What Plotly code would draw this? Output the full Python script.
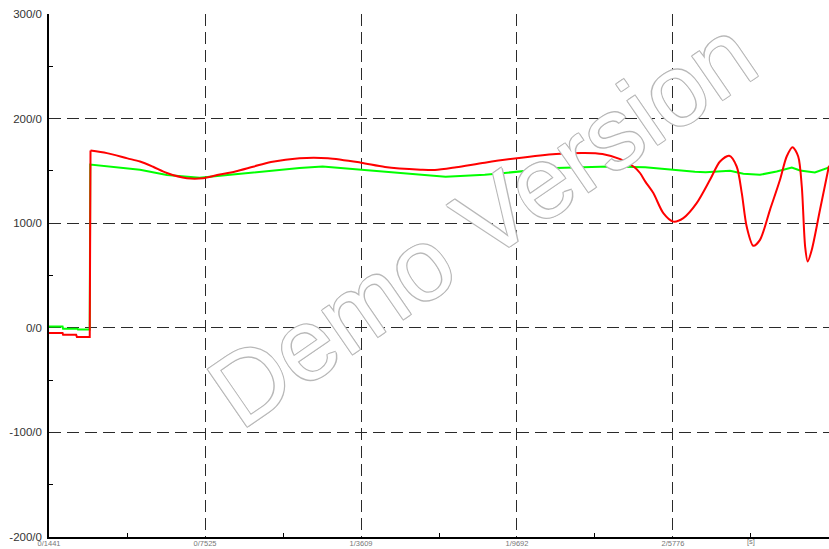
import plotly.graph_objects as go

# ---- data ----
red_t = [0.1441, 0.197, 0.199, 0.250, 0.253, 0.303, 0.306, 0.37, 0.45, 0.499, 0.55, 0.604,
         0.682, 0.745, 0.80, 0.8707, 0.94, 1.0097, 1.121, 1.2321, 1.3609, 1.4545, 1.5935,
         1.649, 1.7325, 1.8437, 1.9692, 2.1217, 2.2329, 2.3024, 2.3719, 2.4275, 2.449,
         2.4692, 2.501, 2.540, 2.579, 2.618, 2.670, 2.722, 2.761, 2.797, 2.826, 2.846,
         2.865, 2.891, 2.917, 2.956, 2.995, 3.021, 3.044, 3.066, 3.080, 3.093, 3.103,
         3.119, 3.151, 3.1861]
red_v = [-5, -5, -6.7, -6.7, -8.7, -8.7, 169.5, 167, 162, 159, 154, 148,
         143, 143, 146, 149.5, 154, 158.5, 162.2, 162.2, 157.9, 153.8, 151.2,
         150.8, 153.5, 157.9, 162.2, 166.2, 167.2, 166.2, 161.2, 153.5, 148,
         140, 128.8, 109.6, 101.5, 104.9, 119.2, 141.5, 159, 164.4, 154.2, 128.8,
         96.8, 78.4, 84.1, 112.8, 141.5, 163.8, 172.7, 163.8, 135.1, 77.7, 63.4,
         74.6, 112.8, 155]
red_step_end = 7  # first points form the initial staircase

green_t = [0.1441, 0.197, 0.199, 0.255, 0.257, 0.303, 0.305, 0.499, 0.604, 0.7316, 0.8707,
           1.0097, 1.121, 1.211, 1.3609, 1.4962, 1.6907, 1.8437, 1.9692, 2.1217, 2.33,
           2.4692, 2.5776, 2.663, 2.705, 2.800, 2.852, 2.917, 2.982, 3.041, 3.073,
           3.131, 3.1861]
green_v = [1.3, 1.3, -0.8, -0.8, -1.7, -1.7, 156, 151, 146, 143.5, 146.8,
           150.5, 152.8, 154.2, 151.2, 147.8, 144.5, 146.2, 149.5, 152.8, 154.2,
           153.5, 151.2, 149.1, 148.8, 150.1, 147.2, 146.3, 149.4, 153.3, 150.4,
           148.5, 153.3]

x_ticks = [0.1441, 0.7525, 1.3609, 1.9692, 2.5776, 3.1861]
x_labels = ["0/1441", "0/7525", "1/3609", "1/9692", "2/5776", "3/1861"]
x_minor = [0.4483, 1.0567, 1.6651, 2.2734, 2.8818]
x_unit_pos = 2.8818
x_unit = "[s]"

y_ticks = [-200, -100, 0, 100, 200, 300]
y_labels = ["-200/0", "-100/0", "0/0", "100/0", "200/0", "300/0"]
y_minor = [-150, -50, 50, 150, 250]

# ---- figure ----
fig = go.Figure()
fig.add_trace(go.Scatter(x=green_t, y=green_v, mode="lines",
                         line=dict(color="#00ff00", width=2), hoverinfo="skip"))
fig.add_trace(go.Scatter(x=red_t[:red_step_end], y=red_v[:red_step_end], mode="lines",
                         line=dict(color="#ff0000", width=2), hoverinfo="skip"))
fig.add_trace(go.Scatter(x=red_t[red_step_end - 1:], y=red_v[red_step_end - 1:], mode="lines",
                         line=dict(color="#ff0000", width=2, shape="spline", smoothing=0.8),
                         hoverinfo="skip"))

grid = dict(showgrid=True, gridcolor="#2a2a2a", gridwidth=1, griddash="12px,6px",
            zeroline=False, showline=True, linecolor="black", linewidth=1.5)

fig.update_layout(
    width=829, height=549,
    margin=dict(l=49, r=0, t=14, b=12),
    plot_bgcolor="white", paper_bgcolor="white",
    showlegend=False,
    xaxis=dict(range=[x_ticks[0], x_ticks[-1]], tickmode="array", tickvals=x_ticks,
               ticktext=x_labels, ticks="", ticklabelstandoff=-2,
               tickfont=dict(family="Liberation Sans, Arial", size=7.5, color="#777"),
               minor=dict(tickmode="array", tickvals=x_minor, ticks="inside", ticklen=4,
                          tickcolor="black", tickwidth=1, showgrid=False),
               **grid),
    yaxis=dict(range=[y_ticks[0], y_ticks[-1]], tickmode="array", tickvals=y_ticks,
               ticktext=y_labels, ticks="", ticklabelstandoff=3,
               tickfont=dict(family="Liberation Sans, Arial", size=11.5, color="#333"),
               minor=dict(tickmode="array", tickvals=y_minor, ticks="inside", ticklen=4,
                          tickcolor="black", tickwidth=1, showgrid=False),
               **grid),
    annotations=[
        dict(x=x_unit_pos, y=0, xref="x", yref="paper", text=x_unit, showarrow=False,
             yanchor="top", yshift=2,
             font=dict(family="Liberation Sans, Arial", size=7.5, color="#777")),
        dict(x=0.555, y=0.600, xref="paper", yref="paper", text="Demo Version",
             showarrow=False, textangle=-34.5, xanchor="center", yanchor="middle",
             font=dict(family="Liberation Sans, Arial", size=101, color="white",
                       shadow="1px 1px 0 #b8b8b8, -1px -1px 0 #b8b8b8, 1px -1px 0 #b8b8b8, -1px 1px 0 #b8b8b8")),
    ],
)

fig.write_html("out.html", config={"displayModeBar": False})
